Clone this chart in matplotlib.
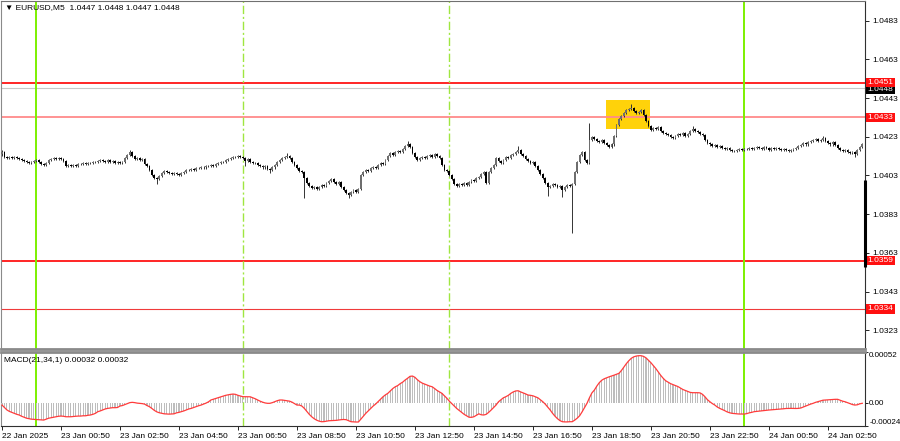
"""
EURUSD M5 chart with support/resistance levels and MACD(21,34,1) subpanel,
drawn MetaTrader-style (price scale on the right, levels boxed in red).
"""

import matplotlib
matplotlib.use('Agg')
import matplotlib.pyplot as plt
import matplotlib.transforms as mtransforms
from matplotlib.patches import Rectangle
import numpy as np

plt.rcParams['font.family'] = ['Liberation Sans', 'DejaVu Sans']
plt.rcParams['font.size'] = 6

# ---- Price data (M5 closes, 22 Jan 22:50 -> 24 Jan 04:00) ----
first_open = 1.04140
closes = [
    1.04151, 1.04125, 1.04120, 1.04125, 1.04120, 1.04125, 1.04120, 1.04115, 1.04110, 1.04105, 1.04099, 1.04094,
    1.04099, 1.04105, 1.04110, 1.04099, 1.04089, 1.04084, 1.04094, 1.04110, 1.04115, 1.04120, 1.04115, 1.04120,
    1.04115, 1.04105, 1.04079, 1.04084, 1.04079, 1.04084, 1.04079, 1.04089, 1.04089, 1.04094, 1.04089, 1.04094,
    1.04094, 1.04099, 1.04099, 1.04105, 1.04110, 1.04105, 1.04099, 1.04110, 1.04099, 1.04105, 1.04094, 1.04099,
    1.04094, 1.04099, 1.04120, 1.04136, 1.04151, 1.04130, 1.04115, 1.04120, 1.04110, 1.04115, 1.04089, 1.04079,
    1.04058, 1.04032, 1.04017, 1.04012, 1.04027, 1.04043, 1.04053, 1.04048, 1.04043, 1.04037, 1.04043, 1.04037,
    1.04032, 1.04043, 1.04048, 1.04058, 1.04058, 1.04063, 1.04058, 1.04068, 1.04068, 1.04073, 1.04073, 1.04079,
    1.04079, 1.04084, 1.04079, 1.04089, 1.04094, 1.04099, 1.04099, 1.04110, 1.04115, 1.04120, 1.04125, 1.04125,
    1.04130, 1.04125, 1.04120, 1.04105, 1.04115, 1.04099, 1.04094, 1.04094, 1.04084, 1.04079, 1.04073, 1.04079,
    1.04063, 1.04058, 1.04073, 1.04084, 1.04099, 1.04110, 1.04120, 1.04125, 1.04130, 1.04120, 1.04099, 1.04084,
    1.04068, 1.04053, 1.04048, 1.04017, 1.03991, 1.03975, 1.03965, 1.03970, 1.03960, 1.03970, 1.03981, 1.03975,
    1.03991, 1.04001, 1.04012, 1.03996, 1.03986, 1.03996, 1.03970, 1.03955, 1.03939, 1.03929, 1.03944, 1.03955,
    1.03944, 1.03960, 1.04032, 1.04048, 1.04058, 1.04053, 1.04068, 1.04073, 1.04068, 1.04084, 1.04094, 1.04089,
    1.04110, 1.04130, 1.04146, 1.04136, 1.04151, 1.04156, 1.04151, 1.04167, 1.04182, 1.04192, 1.04177, 1.04146,
    1.04125, 1.04110, 1.04120, 1.04125, 1.04120, 1.04130, 1.04136, 1.04125, 1.04141, 1.04130, 1.04120, 1.04084,
    1.04058, 1.04053, 1.04032, 1.04012, 1.03986, 1.03975, 1.03986, 1.03981, 1.03991, 1.03981, 1.03996, 1.04006,
    1.04001, 1.04017, 1.04022, 1.04037, 1.04048, 1.03991, 1.04048, 1.04068, 1.04084, 1.04120, 1.04105, 1.04094,
    1.04110, 1.04125, 1.04120, 1.04136, 1.04141, 1.04151, 1.04162, 1.04141, 1.04130, 1.04115, 1.04105, 1.04094,
    1.04099, 1.04079, 1.04058, 1.04037, 1.04017, 1.03991, 1.03970, 1.03975, 1.03986, 1.03981, 1.03970, 1.03975,
    1.03955, 1.03970, 1.03981, 1.03975, 1.03986, 1.04048, 1.04099, 1.04136, 1.04151, 1.04110, 1.04094, 1.04213,
    1.04229, 1.04218, 1.04208, 1.04203, 1.04213, 1.04198, 1.04187, 1.04177, 1.04192, 1.04234, 1.04291, 1.04322,
    1.04337, 1.04353, 1.04368, 1.04373, 1.04379, 1.04363, 1.04353, 1.04358, 1.04368, 1.04342, 1.04311, 1.04286,
    1.04265, 1.04275, 1.04270, 1.04280, 1.04260, 1.04249, 1.04244, 1.04239, 1.04229, 1.04224, 1.04234, 1.04244,
    1.04239, 1.04249, 1.04234, 1.04244, 1.04260, 1.04270, 1.04260, 1.04255, 1.04244, 1.04239, 1.04213, 1.04198,
    1.04192, 1.04182, 1.04187, 1.04177, 1.04182, 1.04172, 1.04167, 1.04172, 1.04162, 1.04156, 1.04156, 1.04162,
    1.04167, 1.04162, 1.04167, 1.04167, 1.04172, 1.04167, 1.04172, 1.04177, 1.04172, 1.04167, 1.04177, 1.04172,
    1.04162, 1.04172, 1.04167, 1.04172, 1.04167, 1.04162, 1.04167, 1.04162, 1.04156, 1.04162, 1.04167, 1.04172,
    1.04182, 1.04187, 1.04198, 1.04192, 1.04203, 1.04208, 1.04213, 1.04218, 1.04208, 1.04213, 1.04224, 1.04208,
    1.04198, 1.04192, 1.04203, 1.04187, 1.04172, 1.04162, 1.04156, 1.04162, 1.04151, 1.04146, 1.04151, 1.04141,
    1.04162, 1.04177, 1.04192,
]
# long shadows that stick out of the bodies (bar index -> price)
spike_highs = {0: 1.04162, 52: 1.04162, 116: 1.04146, 165: 1.04208, 210: 1.04182,
               239: 1.04301, 256: 1.04399, 281: 1.04286, 334: 1.04234}
spike_lows = {63: 1.03986, 99: 1.04079, 109: 1.04043, 123: 1.03913, 141: 1.03913,
              222: 1.03924, 228: 1.03919, 232: 1.03732, 347: 1.04125}

# ---- MACD(21,34,1), in units of 1e-5 ----
macd_pts = [
    -2.5, -5, -7.5, -9, -10, -11, -12, -12.7, -14, -15, -16, -16.5,
    -17, -17.2, -17.5, -17.7, -17.9, -17.9, -17, -16, -15.5, -15, -14.5, -14,
    -13.8, -14, -14.5, -14.5, -14.5, -14.2, -14, -13.8, -13.8, -13.5, -13.5, -13,
    -12.7, -12, -11, -9.3, -8.5, -7.5, -6.5, -5.9, -5.5, -5.2, -5.2, -5,
    -3.5, -3, -2, -1, 0, 0.3, 0, -0.5, -0.7, -1, -1.5, -3,
    -4.2, -6, -8, -9.5, -10.4, -11, -11.5, -11.7, -11.8, -11.7, -11.5, -10.5,
    -10, -9.3, -8.5, -7.5, -6.5, -5.9, -5, -4, -3.2, -2.5, -1.5, -0.5,
    0.8, 2.7, 3.5, 4.3, 5, 5.8, 6.8, 7.5, 8, 8.5, 8.8, 8.5,
    7.5, 6.8, 6.1, 6.1, 6.1, 6, 5, 4, 2.7, 1.5, 0.5, -0.3,
    -0.7, -0.7, 0, 1, 2, 2.7, 2.7, 2.3, 2, 1.5, 0.5, -1,
    -2.5, -2.5, -3.5, -5.9, -9, -12, -14.5, -16.5, -18, -19, -19.6, -19.5,
    -19, -18.6, -18.5, -18.5, -18.2, -17.8, -17.5, -17.3, -17.5, -18.5, -19.6, -19.8,
    -19.9, -19.9, -17, -14, -11, -8.5, -6, -3.5, -1.5, 1, 3.5, 6,
    8, 9.6, 12, 14.5, 16.3, 17.5, 19.5, 21, 23.2, 25, 27, 27.3,
    26, 23.5, 21.5, 20, 19, 18, 17, 16.3, 14.5, 12.5, 11, 9.5,
    7, 4.5, 1.5, -1, -3.5, -6, -8, -10, -12, -13.5, -15, -15.1,
    -14.5, -13, -11.5, -12.5, -12.7, -12, -10, -7.6, -5, -2.5, 0.9, 3,
    5, 6.1, 7.5, 9.5, 11, 12, 12.2, 11, 10, 9, 7.8, 7.5,
    7, 6, 5, 3, 1, -1.5, -4.5, -7.5, -11, -14, -16.5, -18.5,
    -19.6, -19.8, -19.8, -19.6, -19.6, -18, -16, -13.5, -9.5, -5, -0.7, 5,
    10, 12.9, 17, 20.5, 23, 24.5, 25.5, 26.5, 27.3, 28.2, 29.2, 30.1,
    33, 36.5, 40, 43, 45.5, 47, 47.8, 48.2, 48.2, 47.5, 46, 43.5,
    41, 38, 35, 31.5, 28, 25, 22.5, 21, 19.5, 18.5, 17.5, 16.5,
    15, 13.5, 12.5, 11.5, 10.5, 10.2, 10.2, 10.2, 10, 8.5, 6, 3,
    0.9, -1, -2.5, -4.5, -5.9, -7, -8.2, -9.5, -10.4, -11, -11.3, -11.5,
    -11.7, -11.7, -11.7, -11.3, -10.5, -10, -9.3, -9, -8.7, -8.5, -8.2, -7.8,
    -7.6, -7.4, -7.2, -7, -6.8, -6.5, -6.3, -6, -5.9, -5.9, -6, -6,
    -5.9, -5.5, -4.5, -3.5, -2.5, -1.5, -0.7, 0.3, 1, 1.8, 2.5, 2.7,
    3, 3.2, 3.4, 3.4, 3.4, 2.5, 1.5, 0.9, 0, -1, -2, -2.5,
    -2.2, -1.2, -0.7,
]

# ---- Axes annotations ----
price_ticks = [1.0323, 1.0343, 1.0363, 1.0383, 1.0403, 1.0423, 1.0443, 1.0463, 1.0483]
macd_ticks = [-0.00024, 0.0, 0.00052]
macd_tick_labels = ['-0.00024', '0.00', '0.00052']
x_tick_bars = [0, 24, 48, 72, 96, 120, 144, 168, 192, 216, 240, 264, 288, 312, 336]
x_tick_labels = ['22 Jan 2025', '23 Jan 00:50', '23 Jan 02:50', '23 Jan 04:50',
                 '23 Jan 06:50', '23 Jan 08:50', '23 Jan 10:50', '23 Jan 12:50',
                 '23 Jan 14:50', '23 Jan 16:50', '23 Jan 18:50', '23 Jan 20:50',
                 '23 Jan 22:50', '24 Jan 00:50', '24 Jan 02:50']

strong_levels = [1.0451, 1.0359]
weak_levels = [1.0433, 1.0334]
bid_price = 1.0448
day_breaks = [14, 302]        # 23 Jan 00:00, 24 Jan 00:00
session_marks = [98, 182]     # 07:00, 14:00
zone_bars = (245.8, 263.6)
zone_prices = (1.04270, 1.04420)
edge_bar = (1.03556, 1.04006)

title_text = '\u25bc EURUSD,M5  1.0447 1.0448 1.0447 1.0448'
macd_text = 'MACD(21,34,1) 0.00032 0.00032'

WICK = 0.00007
XLIM = (-0.4, 351.1)

# ---- Figure ----
fig = plt.figure(figsize=(9, 4.41), dpi=100)
ax = fig.add_axes([1 / 900, 1 - 349 / 441, 864 / 900, 348 / 441])
axm = fig.add_axes([1 / 900, 1 - 426 / 441, 864 / 900, 74 / 441])

idx = np.arange(len(closes))
c = np.array(closes)
o = np.array([first_open] + closes[:-1])
hi = np.maximum(o, c) + WICK
lo = np.minimum(o, c) - WICK
for k, v in spike_highs.items():
    hi[k] = v
for k, v in spike_lows.items():
    lo[k] = v

ax.add_patch(Rectangle((zone_bars[0], zone_prices[0]), zone_bars[1] - zone_bars[0],
                       zone_prices[1] - zone_prices[0], color='#ffd20a', lw=0, zorder=1))
ax.vlines(idx, lo, hi, color='#333333', lw=0.7, zorder=3)
up = c >= o
ax.bar(idx[up], (c - o)[up], bottom=o[up], width=0.75, color='#6e6e6e', lw=0, zorder=3)
ax.bar(idx[~up], (o - c)[~up], bottom=c[~up], width=0.75, color='#000000', lw=0, zorder=3)

for lv in strong_levels:
    ax.axhline(lv, color='#ff0000', lw=1.2, zorder=2)
ax.axhline(weak_levels[0], color='#ff8a8a', lw=1.3, zorder=2)
ax.axhline(weak_levels[1], color='#f03a3a', lw=0.8, zorder=2)
ax.axhline(bid_price, color='#c8c8c8', lw=0.8, zorder=2)

for a in (ax, axm):
    for b in day_breaks:
        a.axvline(b, color='#7cf000', lw=1.4, zorder=2)
    for b in session_marks:
        a.axvline(b, color='#9fe640', lw=1.0, ls=(0, (6, 2, 1.5, 2)), zorder=2)
    a.set_xlim(*XLIM)
    a.set_facecolor('white')

ax.set_ylim(1.03133, 1.04932)
ax.set_xticks([])
ax.yaxis.tick_right()
ax.set_yticks(price_ticks)
ax.set_yticklabels(['%.4f' % t for t in price_ticks])
ax.tick_params(axis='y', length=3, width=0.6, pad=2, labelsize=6)

# level tags on the price scale
trans = mtransforms.blended_transform_factory(ax.transAxes, ax.transData)
ax.text(1.003, bid_price - 0.00006, '%.4f' % bid_price, transform=trans, ha='left', va='center',
        color='white', fontsize=6, clip_on=False, zorder=6,
        bbox=dict(boxstyle='square,pad=0.15', fc='black', ec='none'))
for lv in strong_levels + weak_levels:
    ax.text(1.003, lv, '%.4f' % lv, transform=trans, ha='left', va='center',
            color='white', fontsize=6, clip_on=False, zorder=7,
            bbox=dict(boxstyle='square,pad=0.15', fc='#ff1010', ec='none'))
ax.plot([1.0, 1.0], edge_bar, transform=trans, color='black', lw=2.2,
        clip_on=False, zorder=8, solid_capstyle='butt')

# ---- MACD panel ----
macd = np.array(macd_pts) * 1e-5
axm.bar(idx, macd, width=0.45, color='#bdbdbd', lw=0, zorder=3)
axm.plot(idx, macd, color='#ff3b3b', lw=0.9, zorder=4)
axm.set_ylim(-0.00024, 0.00052)
axm.yaxis.tick_right()
axm.set_yticks(macd_ticks)
axm.set_yticklabels(macd_tick_labels)
ylabs = axm.get_yticklabels()
ylabs[0].set_va('bottom')
ylabs[-1].set_va('top')
axm.tick_params(axis='y', length=2, width=0.6, pad=1, labelsize=5.8)
axm.set_xticks(x_tick_bars)
axm.set_xticklabels(x_tick_labels, ha='left')
axm.tick_params(axis='x', length=3, width=0.6, pad=2, labelsize=6)
axm.text(0.004, 0.93, macd_text, transform=axm.transAxes, ha='left', va='top', fontsize=6)

# frame styling
for a in (ax, axm):
    a.spines['left'].set_color('#8a8a8a')
    a.spines['right'].set_color('#303030')
    a.spines['left'].set_linewidth(0.8)
    a.spines['right'].set_linewidth(0.8)
ax.spines['top'].set_color('#707070')
ax.spines['top'].set_linewidth(0.8)
ax.spines['bottom'].set_color('#8a8a8a')
ax.spines['bottom'].set_linewidth(2.0)
axm.spines['top'].set_color('#8a8a8a')
axm.spines['top'].set_linewidth(2.0)
axm.spines['bottom'].set_color('#303030')
axm.spines['bottom'].set_linewidth(0.8)

fig.text(5 / 900, 1 - 7.5 / 441, title_text, ha='left', va='center', fontsize=6)

fig.savefig('out.png', dpi=100)
plt.close(fig)
